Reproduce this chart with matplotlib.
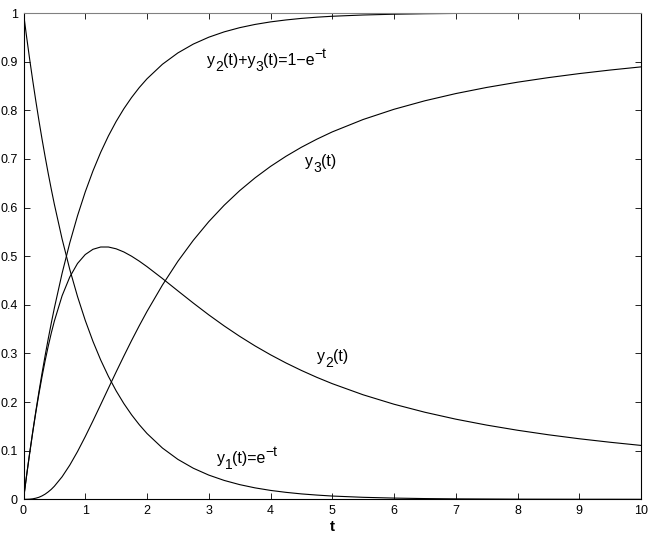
import matplotlib
matplotlib.use("Agg")
import matplotlib.pyplot as plt

plt.rcParams["font.family"] = ["Liberation Sans", "DejaVu Sans"]

# values
t = [0, 0.05, 0.1, 0.15, 0.2, 0.25, 0.3, 0.35, 0.4, 0.45, 0.5, 0.625, 0.75,
     0.875, 1.0, 1.125, 1.25, 1.375, 1.5, 1.625, 1.75, 1.875, 2.0, 2.25, 2.5,
     2.75, 3.0, 3.25, 3.5, 3.75, 4.0, 4.25, 4.5, 4.75, 5.0, 5.5, 6.0, 6.5,
     7.0, 7.5, 8.0, 8.5, 9.0, 9.5, 10.0]
y1 = [1.0, 0.9512, 0.9048, 0.8607, 0.8187, 0.7788, 0.7408, 0.7047, 0.6703,
      0.6376, 0.6065, 0.5353, 0.4724, 0.4169, 0.3679, 0.3247, 0.2865, 0.2528,
      0.2231, 0.1969, 0.1738, 0.1534, 0.1353, 0.1054, 0.0821, 0.0639, 0.0498,
      0.0388, 0.0302, 0.0235, 0.0183, 0.0143, 0.0111, 0.0087, 0.0067, 0.0041,
      0.0025, 0.0015, 0.0009, 0.0006, 0.0003, 0.0002, 0.0001, 0.0001, 0.0]
y2 = [0.0, 0.0487, 0.0949, 0.1383, 0.1790, 0.2170, 0.2522, 0.2847, 0.3145,
      0.3419, 0.3666, 0.4185, 0.4573, 0.4850, 0.5033, 0.5141, 0.5188, 0.5188,
      0.5151, 0.5086, 0.4999, 0.4897, 0.4784, 0.4540, 0.4286, 0.4035, 0.3793,
      0.3565, 0.3352, 0.3154, 0.2972, 0.2804, 0.2650, 0.2508, 0.2378, 0.2149,
      0.1955, 0.1790, 0.1648, 0.1526, 0.1420, 0.1327, 0.1245, 0.1173, 0.1108]
y3 = [0.0, 0.0000, 0.0003, 0.0010, 0.0023, 0.0042, 0.0070, 0.0106, 0.0152,
      0.0205, 0.0269, 0.0463, 0.0704, 0.0982, 0.1289, 0.1613, 0.1947, 0.2284,
      0.2618, 0.2945, 0.3264, 0.3570, 0.3863, 0.4406, 0.4894, 0.5326, 0.5709,
      0.6047, 0.6346, 0.6610, 0.6845, 0.7053, 0.7239, 0.7405, 0.7555, 0.7810,
      0.8020, 0.8195, 0.8343, 0.8469, 0.8577, 0.8671, 0.8754, 0.8827, 0.8892]
y23 = [0.0, 0.0488, 0.0952, 0.1393, 0.1813, 0.2212, 0.2592, 0.2953, 0.3297,
       0.3624, 0.3935, 0.4647, 0.5276, 0.5831, 0.6321, 0.6753, 0.7135, 0.7472,
       0.7769, 0.8031, 0.8262, 0.8467, 0.8647, 0.8946, 0.9179, 0.9361, 0.9502,
       0.9612, 0.9698, 0.9765, 0.9817, 0.9857, 0.9889, 0.9914, 0.9933, 0.9959,
       0.9975, 0.9985, 0.9991, 0.9994, 0.9997, 0.9998, 0.9999, 0.9999, 1.0]

fig = plt.figure(figsize=(6.54, 5.39), dpi=100)
ax = fig.add_axes([23.5 / 654, 1 - 499.3 / 539, 617.5 / 654, 486.3 / 539])

for ys in (y1, y2, y3, y23):
    ax.plot(t, ys, color="black", linewidth=0.8)

ax.set_xlim(0, 10)
ax.set_ylim(0, 1)
ax.set_xticks(range(0, 11))
ax.set_yticks([i / 10 for i in range(11)])
ax.set_yticklabels(["0", "0.1", "0.2", "0.3", "0.4", "0.5", "0.6", "0.7", "0.8", "0.9", "1"])
ax.tick_params(direction="in", length=4, width=0.6, labelsize=9,
               top=True, right=True, pad=4)
for side in ax.spines.values():
    side.set_linewidth(0.8)
ax.spines["top"].set_color("#808080")
ax.set_xlabel("t", fontweight="bold", fontsize=11, labelpad=2)

# labels in the MATLAB style: sub/superscripts barely shrunk, just shifted
renderer = fig.canvas.get_renderer()


def label(x, y, parts, fs=11.5):
    dx = 0
    for s, shift in parts:
        size = fs if shift == 0 else fs - 1.5
        txt = ax.annotate(s, (x, y), xytext=(dx, shift), textcoords="offset pixels",
                          fontsize=size, va="baseline", ha="left")
        dx += txt.get_window_extent(renderer).width


SUB, SUP = -6, 7
label(2.97, 0.894, [("y", 0), ("2", SUB), ("(t)+y", 0), ("3", SUB),
                    ("(t)=1\u2212e", 0), ("\u2212t", SUP)])
label(4.56, 0.686, [("y", 0), ("3", SUB), ("(t)", 0)])
label(4.75, 0.285, [("y", 0), ("2", SUB), ("(t)", 0)])
label(3.13, 0.075, [("y", 0), ("1", SUB), ("(t)=e", 0), ("\u2212t", SUP)])

fig.savefig("out.png", dpi=100)
